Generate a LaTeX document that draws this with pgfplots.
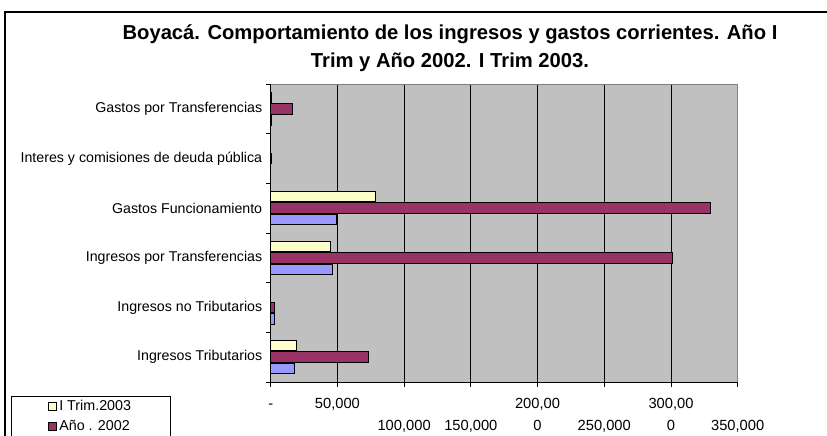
\documentclass[border=0pt]{standalone}
\usepackage{pgfplots}
\pgfplotsset{compat=1.18}
\usepackage{fontspec}
\setmainfont{Liberation Sans}
\definecolor{cY}{HTML}{FFFFCC}
\definecolor{cM}{HTML}{993366}
\definecolor{cB}{HTML}{9999FF}
\definecolor{plotbg}{HTML}{C0C0C0}
\begin{document}
\begin{tikzpicture}
\useasboundingbox (0,0) rectangle (827pt,-436pt);
\clip (0,0) rectangle (827pt,-436pt);
\draw[line width=1.3pt] (5pt,-460pt) -- (5pt,-12pt) -- (860pt,-12pt);
\node[font=\bfseries\fontsize{20.2}{28}\selectfont, align=center] at (450pt,-48.5pt)
  {Boyacá. Comportamiento de los ingresos y gastos corrientes. Año I\\Trim y Año 2002. I Trim 2003.};
\begin{axis}[
  at={(270.7pt,-382pt)}, anchor=south west, scale only axis,
  width=467pt, height=298pt,
  xbar, bar width=10.5pt,
  legend image code/.code={\draw[#1, line width=0.9pt] (0pt,-4pt) rectangle (8pt,4pt);},
  xmin=0, xmax=350000, ymin=-0.5, ymax=5.5,
  axis background/.style={fill=plotbg},
  axis line style={draw=none},
  xtick={0,50000,...,350000},
  xticklabels={{\strut -\\\strut}, {\strut 50,000\\\strut}, {\strut\\\strut 100,000}, {\strut\\\strut 150,000},
    {\strut 200,00\\\strut 0}, {\strut\\\strut 250,000}, {\strut 300,00\\\strut 0}, {\strut\\\strut 350,000}},
  xticklabel style={align=center, font=\fontsize{14.7}{22}\selectfont, yshift=-2.5pt},
  ytick={-0.5,0.5,...,5.5},
  yticklabels={Ingresos Tributarios, Ingresos no Tributarios, Ingresos por Transferencias,
    Gastos Funcionamiento, Interes y comisiones de deuda pública, Gastos por Transferencias, {}},
  yticklabel style={yshift=24.83pt, font=\fontsize{14.2}{16}\selectfont},
  tick align=outside, major tick length=5pt,
  xtick pos=bottom, ytick pos=left,
  tick style={black, line width=0.8pt},
  xmajorgrids, grid style={black, line width=0.8pt},
  legend style={at={(-0.5561,-0.047)}, anchor=north west, draw=black, line width=0.8pt,
    font=\fontsize{14.3}{16}\selectfont, inner xsep=37pt, inner ysep=2pt, row sep=4pt},
  legend cell align=left,
  after end axis/.code={
    \draw[gray, line width=0.8pt] (rel axis cs:0,1) -- (rel axis cs:1,1) -- (rel axis cs:1,0);
    \draw[black, line width=0.9pt] (rel axis cs:0,1) -- (rel axis cs:0,0) -- (rel axis cs:1,0);
  },
]
\addplot[fill=cY, draw=black, line width=0.9pt, bar shift=11.5pt] coordinates
  {(19000,0) (0,1) (44700,2) (78700,3) (0,4) (500,5)};
\addplot[fill=cM, draw=black, line width=0.9pt, bar shift=0pt] coordinates
  {(73200,0) (2700,1) (301300,2) (329800,3) (600,4) (16200,5)};
\addplot[fill=cB, draw=black, line width=0.9pt, bar shift=-11.5pt] coordinates
  {(17700,0) (2700,1) (46200,2) (49200,3) (0,4) (500,5)};
\legend{I Trim.2003, Año . 2002, I Trim.2002}
\end{axis}
\end{tikzpicture}
\end{document}
